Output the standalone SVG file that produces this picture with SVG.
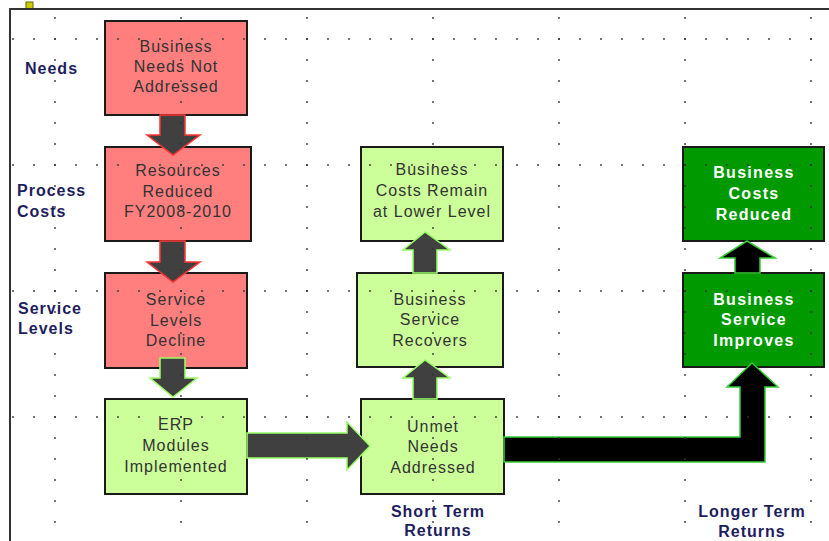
<svg xmlns="http://www.w3.org/2000/svg" width="829" height="541" viewBox="0 0 829 541">
<style>
.bg{fill:#ffffff}
.frame{stroke:#333333;stroke-width:2;fill:none}
.grid{stroke:#333333;stroke-width:1.8;stroke-linecap:round;stroke-dasharray:0 21;fill:none}
.red{fill:#ff7f7f;stroke:#1a1a1a;stroke-width:2}
.lg{fill:#ccff99;stroke:#1a1a1a;stroke-width:2}
.dg{fill:#009900;stroke:#1a1a1a;stroke-width:2}
.t{font-family:"Liberation Sans",Arial,sans-serif;font-size:16px;letter-spacing:1px;fill:#333333;text-anchor:middle}
.tw{font-family:"Liberation Sans",Arial,sans-serif;font-size:16px;font-weight:bold;letter-spacing:1.3px;fill:#ffffff;text-anchor:middle}
.lab{font-family:"Liberation Sans",Arial,sans-serif;font-size:16px;font-weight:bold;letter-spacing:1px;fill:#1e1e5e}
.labc{font-family:"Liberation Sans",Arial,sans-serif;font-size:16px;font-weight:bold;letter-spacing:1px;fill:#1e1e5e;text-anchor:middle}
.ar{fill:#404040;stroke:#ff3333;stroke-width:1.5;stroke-linejoin:miter}
.ag{fill:#404040;stroke:#99ff66;stroke-width:1.5;stroke-linejoin:miter}
.ab{fill:#000000;stroke:#33cc33;stroke-width:1.5;stroke-linejoin:miter}
</style>
<rect class="bg" x="0" y="0" width="829" height="541"/>
<rect x="26" y="2" width="7" height="7" fill="#cccc00" stroke="#666600" stroke-width="1"/>
<path class="frame" d="M10,541 V9 H829"/>

<g id="labels">
<text class="lab" x="25" y="74">Needs</text>
<text class="lab" x="17" y="196">Process</text>
<text class="lab" x="17" y="217">Costs</text>
<text class="lab" x="18" y="314">Service</text>
<text class="lab" x="18" y="334">Levels</text>
<text class="labc" x="438" y="517">Short Term</text>
<text class="labc" x="438" y="536">Returns</text>
<text class="labc" x="752" y="517">Longer Term</text>
<text class="labc" x="752" y="537">Returns</text>
</g>

<g id="n1"><rect class="red" x="105" y="21" width="142" height="94"/>
<text class="t" x="176" y="52">Business</text><text class="t" x="176" y="72">Needs Not</text><text class="t" x="176" y="92">Addressed</text></g>
<g id="n2"><rect class="red" x="105" y="147" width="146" height="94"/>
<text class="t" x="178" y="176">Resources</text><text class="t" x="178" y="196.5">Reduced</text><text class="t" x="178" y="217">FY2008-2010</text></g>
<g id="n3"><rect class="red" x="105" y="273" width="142" height="95"/>
<text class="t" x="176" y="305">Service</text><text class="t" x="176" y="325.5">Levels</text><text class="t" x="176" y="346">Decline</text></g>
<g id="n4"><rect class="lg" x="105" y="399" width="142" height="95"/>
<text class="t" x="176" y="430">ERP</text><text class="t" x="176" y="451">Modules</text><text class="t" x="176" y="472">Implemented</text></g>
<g id="n5"><rect class="lg" x="361" y="399" width="143" height="95"/>
<text class="t" x="433" y="432">Unmet</text><text class="t" x="433" y="452">Needs</text><text class="t" x="433" y="473">Addressed</text></g>
<g id="n6"><rect class="lg" x="357" y="273" width="146" height="94"/>
<text class="t" x="430" y="305">Business</text><text class="t" x="430" y="325">Service</text><text class="t" x="430" y="346">Recovers</text></g>
<g id="n7"><rect class="lg" x="361" y="147" width="142" height="94"/>
<text class="t" x="432" y="175">Business</text><text class="t" x="432" y="195.5">Costs Remain</text><text class="t" x="432" y="217">at Lower Level</text></g>
<g id="n8"><rect class="dg" x="683" y="273" width="141" height="94"/>
<text class="tw" x="754" y="305">Business</text><text class="tw" x="754" y="325">Service</text><text class="tw" x="754" y="346">Improves</text></g>
<g id="n9"><rect class="dg" x="683" y="147" width="141" height="94"/>
<text class="tw" x="754" y="178">Business</text><text class="tw" x="754" y="199">Costs</text><text class="tw" x="754" y="220">Reduced</text></g>

<g id="connectors">
<polygon class="ar" points="160,115 185,115 185,135 200,135 173,155 147,135 160,135"/>
<polygon class="ar" points="160,241 185,241 185,262 200,262 173,282 147,262 160,262"/>
<polygon class="ag" points="160,358 185,358 185,378 197,378 173,397 150,378 160,378"/>
<polygon class="ag" points="247,433 347,433 347,422 370,446 347,470 347,458 247,458"/>
<polygon class="ag" points="413,399 437,399 437,378 450,378 425,360 403,378 413,378"/>
<polygon class="ag" points="413,273 437,273 437,250 450,250 425,232 403,250 413,250"/>
<polygon class="ab" points="735,273 760,273 760,258 775,258 747,241 720,258 735,258"/>
<polygon class="ab" points="504,437 740,437 740,387 727,387 752,363 778,387 765,387 765,462 504,462"/>
</g>

<g id="grid">
<path class="grid" d="M13,39 H829 M13,165 H829 M13,291 H829 M13,417 H829"/>
<path class="grid" d="M55,18 V541 M181,18 V541 M307,18 V541 M433,18 V541 M559,18 V541 M685,18 V541 M811,18 V541"/>
</g>
</svg>
